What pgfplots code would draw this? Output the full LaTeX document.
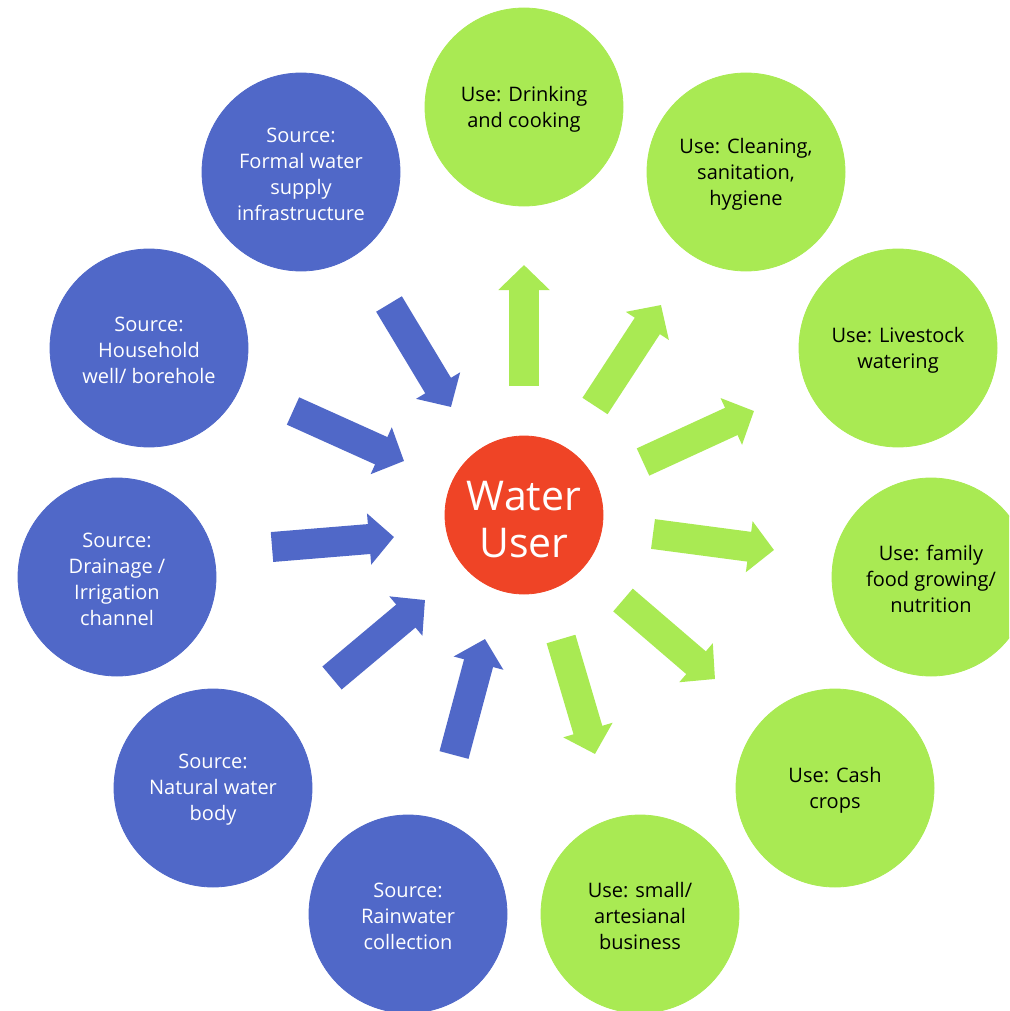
\documentclass[border=0pt]{standalone}
\usepackage{pgfplots}
\pgfplotsset{compat=1.18}
\usepackage{fontspec}
\setmainfont{Open Sans}
\usetikzlibrary{arrows.meta}
\definecolor{srcblue}{HTML}{5068C8}
\definecolor{usegreen}{HTML}{A9EA53}
\definecolor{userred}{HTML}{EF4426}
\tikzset{
  fat/.style={line width=15pt, -{Triangle[width=25pt,length=12.5pt]}},
  lbl/.style={align=center, inner sep=0pt, yshift=-1pt, font=\fontsize{10}{13}\selectfont},
}
\begin{document}
\begin{tikzpicture}
\begin{axis}[scale only axis, width=504.5pt, height=505.5pt,
  xmin=0, xmax=1009, ymin=0, ymax=1011, y dir=reverse,
  hide axis, clip=true, clip marker paths=true]
% source circles
\addplot[only marks, color=srcblue, mark=*, mark size=49.5pt, mark options={draw=none, fill=srcblue}]
  coordinates {(301,172) (149,348) (117,577) (213,788) (408,914)};
% use circles
\addplot[only marks, color=usegreen, mark=*, mark size=49.5pt, mark options={draw=none, fill=usegreen}]
  coordinates {(524,107) (746,172) (898,348) (931,577) (835,788) (640,914)};
% central circle
\addplot[only marks, color=userred, mark=*, mark size=39.5pt, mark options={draw=none, fill=userred}]
  coordinates {(524,515)};
% inward arrows (sources)
\addplot[fat, srcblue] coordinates {(389,304) (451,407)};
\addplot[fat, srcblue] coordinates {(293,411) (404,461)};
\addplot[fat, srcblue] coordinates {(272,547) (394,537)};
\addplot[fat, srcblue] coordinates {(332,678) (425,600)};
\addplot[fat, srcblue] coordinates {(454,755) (485,639)};
% outward arrows (uses)
\addplot[fat, usegreen] coordinates {(524,386) (524,265)};
\addplot[fat, usegreen] coordinates {(595,406) (661,305)};
\addplot[fat, usegreen] coordinates {(643,462) (754,411)};
\addplot[fat, usegreen] coordinates {(653,534) (774,550)};
\addplot[fat, usegreen] coordinates {(623,600) (715,679)};
\addplot[fat, usegreen] coordinates {(561,639) (595,754)};
% labels
\node[lbl, text=white] at (axis cs:301,172) {Source:\\Formal water\\supply\\infrastructure};
\node[lbl, text=white] at (axis cs:149,348) {Source:\\Household\\well/ borehole};
\node[lbl, text=white] at (axis cs:117,577) {Source:\\Drainage /\\Irrigation\\channel};
\node[lbl, text=white] at (axis cs:213,788) {Source:\\Natural water\\body};
\node[lbl, text=white] at (axis cs:408,914) {Source:\\Rainwater\\collection};
\node[lbl, text=black] at (axis cs:524,107) {Use: Drinking\\and cooking};
\node[lbl, text=black] at (axis cs:746,172) {Use: Cleaning,\\sanitation,\\hygiene};
\node[lbl, text=black] at (axis cs:898,348) {Use: Livestock\\watering};
\node[lbl, text=black] at (axis cs:931,577) {Use: family\\food growing/\\nutrition};
\node[lbl, text=black] at (axis cs:835,788) {Use: Cash\\crops};
\node[lbl, text=black] at (axis cs:640,914) {Use: small/\\artesianal\\business};
\node[align=center, inner sep=0pt, text=white, font=\fontsize{20.5}{23.5}\selectfont] at (axis cs:524,520) {Water\\User};
\end{axis}
\pgfresetboundingbox
\useasboundingbox (current axis.south west) rectangle (current axis.north east);
\end{tikzpicture}
\end{document}
